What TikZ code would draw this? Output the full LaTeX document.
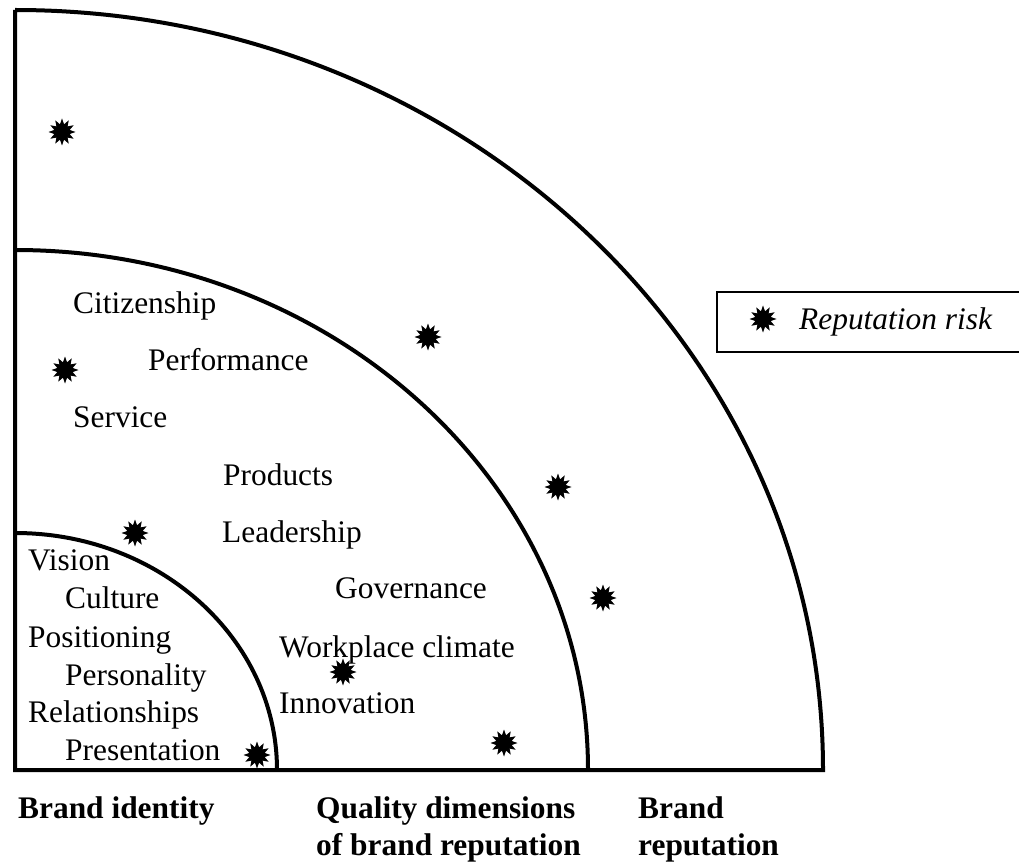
\documentclass[tikz,border=0pt]{standalone}
\usepackage{fontspec}
\setmainfont{Liberation Serif}
\usetikzlibrary{shapes.geometric}
\tikzset{
  ring/.style={line width=4pt, line join=miter},
  item/.style={anchor=base west, inner sep=0pt, font=\fontsize{31.4}{37}\selectfont},
  zone/.style={item, font=\fontsize{31.4}{37}\selectfont\bfseries},
  risk/.style={star, star points=12, star point ratio=1.7, fill=black, draw=none, inner sep=0pt, minimum size=27pt},
}
\begin{document}
\begin{tikzpicture}[x=1pt, y=-1pt]
	\useasboundingbox (0,0) rectangle (1019,866);
	% quarter rings
	\draw [ring] (15,10) -- (15,770) -- (823,770) arc [start angle=0, end angle=-90, x radius=808, y radius=760];
	\draw [ring] (588,770) arc [start angle=0, end angle=-90, x radius=573, y radius=520];
	\draw [ring] (277,770) arc [start angle=0, end angle=-90, x radius=262, y radius=237];
	% quality dimensions
	\node [item] (citizen) at (73,313) {Citizenship};
	\node [item] (perform) at (148,370) {Performance};
	\node [item] (service) at (73,427) {Service};
	\node [item] (product) at (223,485) {Products};
	\node [item] (leader) at (222,542) {Leadership};
	\node [item] (govern) at (335,598) {Governance};
	\node [item] (climate) at (279,657) {Workplace climate};
	\node [item] (innov) at (279,713) {Innovation};
	% identity
	\node [item] (vision) at (28,570) {Vision};
	\node [item] (culture) at (65,608) {Culture};
	\node [item] (position) at (28,647) {Positioning};
	\node [item] (persona) at (65,685) {Personality};
	\node [item] (relation) at (28,722) {Relationships};
	\node [item] (present) at (65,760) {Presentation};
	% reputation risks
	\node [risk] (r1) at (62,132) {};
	\node [risk] (r2) at (428,337) {};
	\node [risk] (r3) at (65,370) {};
	\node [risk] (r4) at (558,487) {};
	\node [risk] (r5) at (135,533) {};
	\node [risk] (r6) at (603,598) {};
	\node [risk] (r7) at (343,672) {};
	\node [risk] (r8) at (504,743) {};
	\node [risk] (r9) at (257,755) {};
	% legend
	\draw [line width=1.8pt] (1019,292) -- (717,292) -- (717,352) -- (1019,352);
	\node [risk] (keystar) at (763,319) {};
	\node [item, font=\fontsize{31.4}{37}\selectfont\itshape] (key) at (799,330) {Reputation risk};
	% zone labels
	\node [zone] (identity) at (18,818) {Brand identity};
	\node [zone] (quality) at (316,818) {Quality dimensions};
	\node [zone] (quality2) at (316,855) {of brand reputation};
	\node [zone] (brand) at (638,818) {Brand};
	\node [zone] (brand2) at (638,855) {reputation};
\end{tikzpicture}
\end{document}
